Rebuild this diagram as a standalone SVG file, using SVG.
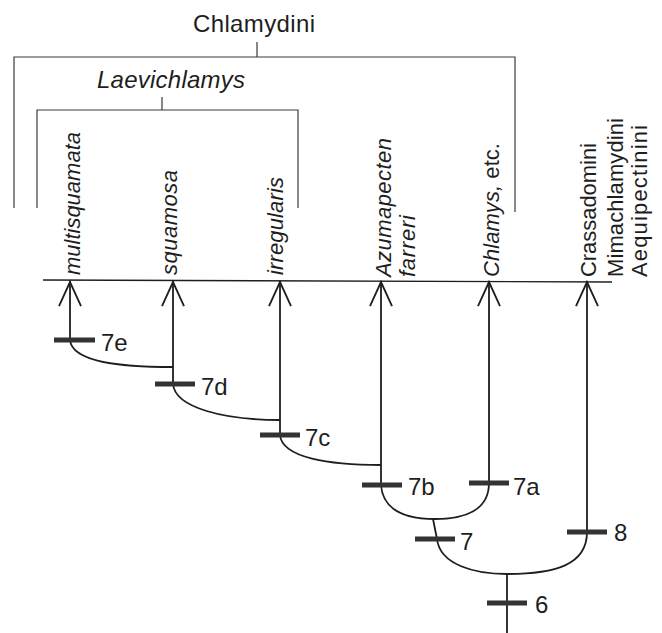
<svg xmlns="http://www.w3.org/2000/svg" width="662" height="633" viewBox="0 0 662 633">
<style>
text{font-family:"Liberation Sans",Arial,sans-serif;fill:#1e1e1e}
.big{font-size:24px}
.tax{font-size:22px}
.it{font-style:italic}
.up{font-style:normal}
.br{fill:none;stroke:#3a3a3a;stroke-width:1.2}
.ln{fill:none;stroke:#1e1e1e;stroke-width:1.8}
.bar{stroke:#333;stroke-width:5}
</style>
<rect width="662" height="633" fill="#fff"/>
<g id="chlamydini">
<path class="br" d="M14,208 V57 H515 V212 M257,42 V57"/>
<text class="big" x="254" y="32" text-anchor="middle" textLength="122">Chlamydini</text>
</g>
<g id="laevichlamys">
<path class="br" d="M37,208 V110 H298 V208 M162,97 V110"/>
<text class="big it" x="171" y="88" text-anchor="middle" textLength="148">Laevichlamys</text>
</g>
<g id="baseline"><path class="ln" style="stroke-width:1.3" d="M43,280 L612,282"/></g>
<g id="t-multisquamata"><text class="tax it" transform="translate(80,275) rotate(-90)" textLength="143">multisquamata</text></g>
<g id="t-squamosa"><text class="tax it" transform="translate(177,275) rotate(-90)" textLength="105">squamosa</text></g>
<g id="t-irregularis"><text class="tax it" transform="translate(283,275) rotate(-90)" textLength="98">irregularis</text></g>
<g id="t-azumapecten"><text class="tax it" transform="translate(391,277) rotate(-90)" textLength="139">Azumapecten</text><text class="tax it" transform="translate(415,277) rotate(-90)" textLength="62">farreri</text></g>
<g id="t-chlamys"><text class="tax" transform="translate(499,277) rotate(-90)" textLength="134"><tspan class="it">Chlamys,</tspan><tspan class="up"> etc.</tspan></text></g>
<g id="t-tribes"><text class="tax" transform="translate(596,277) rotate(-90)" textLength="134">Crassadomini</text><text class="tax" transform="translate(623,277) rotate(-90)" textLength="159">Mimachlamydini</text><text class="tax" transform="translate(647,277) rotate(-90)" textLength="152">Aequipectinini</text></g>
<g id="connectors">
<path class="ln" d="M70,281 V340 M173,281 V384 M280,281 V435 M381,281 V485 M489,281 V483 M587,281 V532 M507,574 V633"/>
<path class="ln" d="M59,306 L70,282 L81,306 M162,306 L173,282 L184,306 M269,306 L280,282 L291,306 M370,306 L381,282 L392,306 M478,306 L489,282 L500,306 M576,306 L587,282 L598,306"/>
<path class="ln" d="M70,340 C72,362 120,367 173,367"/>
<path class="ln" d="M173,384 C175,408 225,420 280,420"/>
<path class="ln" d="M280,435 C282,458 330,465 381,465"/>
<path class="ln" d="M381,485 C383,510 405,519 435,519 C465,519 489,510 489,483"/>
<path class="ln" d="M433,519 L437,539"/>
<path class="ln" d="M437,539 C440,565 475,574 507,574 C555,574 587,565 587,532"/>
</g>
<g id="c7e"><path class="bar" d="M54,340 H95"/><text class="big" x="101" y="351">7e</text></g>
<g id="c7d"><path class="bar" d="M155,384 H195"/><text class="big" x="201" y="395">7d</text></g>
<g id="c7c"><path class="bar" d="M260,435 H300"/><text class="big" x="305" y="446">7c</text></g>
<g id="c7b"><path class="bar" d="M362,485 H402"/><text class="big" x="408" y="495">7b</text></g>
<g id="c7a"><path class="bar" d="M469,483 H509"/><text class="big" x="513" y="495">7a</text></g>
<g id="c7"><path class="bar" d="M415,539 H455"/><text class="big" x="460" y="550">7</text></g>
<g id="c8"><path class="bar" d="M567,532 H607"/><text class="big" x="614" y="541">8</text></g>
<g id="c6"><path class="bar" d="M487,603 H527"/><text class="big" x="535" y="613">6</text></g>
</svg>
